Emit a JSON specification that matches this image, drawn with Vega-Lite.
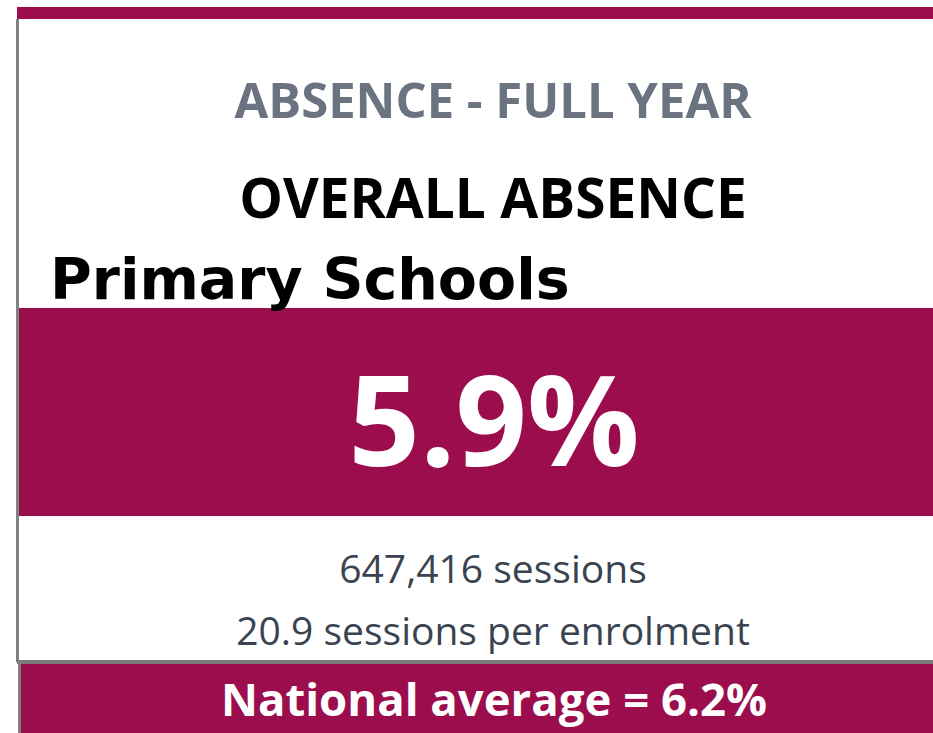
{
  "$schema": "https://vega.github.io/schema/vega-lite/v6.json",
  "autosize": {"type": "fit", "contains": "padding"},
  "width": 933,
  "height": 733,
  "padding": 0,
  "background": "white",
  "config": {"view": {"stroke": null}},
  "data": {"values": [
    {"item": "heading", "label": "ABSENCE - FULL YEAR"},
    {"item": "measure", "label": "OVERALL ABSENCE"},
    {"item": "phase", "label": "Primary Schools"},
    {"item": "rate", "label": "5.9%"},
    {"item": "sessions", "label": "647,416 sessions"},
    {"item": "per_enrolment", "label": "20.9 sessions per enrolment"},
    {"item": "national", "label": "National average = 6.2%"}
  ]},
  "encoding": {
    "x": {"type": "quantitative", "scale": {"domain": [0, 933], "nice": false, "zero": false}, "axis": null},
    "y": {"type": "quantitative", "scale": {"domain": [0, 733], "nice": false, "zero": false, "reverse": true}, "axis": null}
  },
  "layer": [
    {"transform": [{"filter": "datum.item == 'heading'"}], "mark": {"type": "rect", "color": "#9B0D4D"},
     "encoding": {"x": {"datum": 17}, "x2": {"datum": 933}, "y": {"datum": 7}, "y2": {"datum": 19}}},
    {"transform": [{"filter": "datum.item == 'heading'"}], "mark": {"type": "rect", "color": "#808080"},
     "encoding": {"x": {"datum": 16}, "x2": {"datum": 19}, "y": {"datum": 19}, "y2": {"datum": 662}}},
    {"transform": [{"filter": "datum.item == 'heading'"}], "mark": {"type": "rect", "color": "#9B0D4D"},
     "encoding": {"x": {"datum": 19}, "x2": {"datum": 933}, "y": {"datum": 308}, "y2": {"datum": 516}}},
    {"transform": [{"filter": "datum.item == 'heading'"}], "mark": {"type": "rect", "color": "#7a7a7a"},
     "encoding": {"x": {"datum": 17}, "x2": {"datum": 933}, "y": {"datum": 660}, "y2": {"datum": 664}}},
    {"transform": [{"filter": "datum.item == 'heading'"}], "mark": {"type": "rect", "color": "#808080"},
     "encoding": {"x": {"datum": 18}, "x2": {"datum": 21}, "y": {"datum": 660}, "y2": {"datum": 733}}},
    {"transform": [{"filter": "datum.item == 'heading'"}], "mark": {"type": "rect", "color": "#9B0D4D"},
     "encoding": {"x": {"datum": 21}, "x2": {"datum": 933}, "y": {"datum": 664}, "y2": {"datum": 733}}},
    {"transform": [{"filter": "datum.item == 'heading'"}],
     "mark": {"type": "text", "font": "Open Sans", "fontWeight": "bold", "fontSize": 49, "color": "#6B7380", "align": "center", "baseline": "alphabetic"},
     "encoding": {"text": {"field": "label"}, "x": {"datum": 493}, "y": {"datum": 118}}},
    {"transform": [{"filter": "datum.item == 'measure'"}],
     "mark": {"type": "text", "font": "Open Sans", "fontWeight": "bold", "fontSize": 55, "color": "#000000", "align": "center", "baseline": "alphabetic"},
     "encoding": {"text": {"field": "label"}, "x": {"datum": 493}, "y": {"datum": 218}}},
    {"transform": [{"filter": "datum.item == 'phase'"}],
     "mark": {"type": "text", "font": "DejaVu Sans", "fontWeight": "bold", "fontSize": 57, "color": "#000000", "align": "left", "baseline": "alphabetic"},
     "encoding": {"text": {"field": "label"}, "x": {"datum": 50}, "y": {"datum": 299}}},
    {"transform": [{"filter": "datum.item == 'rate'"}],
     "mark": {"type": "text", "font": "Open Sans", "fontWeight": "bold", "fontSize": 125, "color": "#FFFFFF", "align": "center", "baseline": "alphabetic"},
     "encoding": {"text": {"field": "label"}, "x": {"datum": 494}, "y": {"datum": 466}}},
    {"transform": [{"filter": "datum.item == 'sessions'"}],
     "mark": {"type": "text", "font": "Open Sans", "fontSize": 39, "color": "#3A4450", "align": "center", "baseline": "alphabetic"},
     "encoding": {"text": {"field": "label"}, "x": {"datum": 493}, "y": {"datum": 583}}},
    {"transform": [{"filter": "datum.item == 'per_enrolment'"}],
     "mark": {"type": "text", "font": "Open Sans", "fontSize": 39, "color": "#3A4450", "align": "center", "baseline": "alphabetic"},
     "encoding": {"text": {"field": "label"}, "x": {"datum": 493}, "y": {"datum": 645}}},
    {"transform": [{"filter": "datum.item == 'national'"}],
     "mark": {"type": "text", "font": "Open Sans", "fontWeight": "bold", "fontSize": 45.5, "color": "#FFFFFF", "align": "center", "baseline": "alphabetic"},
     "encoding": {"text": {"field": "label"}, "x": {"datum": 494}, "y": {"datum": 716}}}
  ]
}
